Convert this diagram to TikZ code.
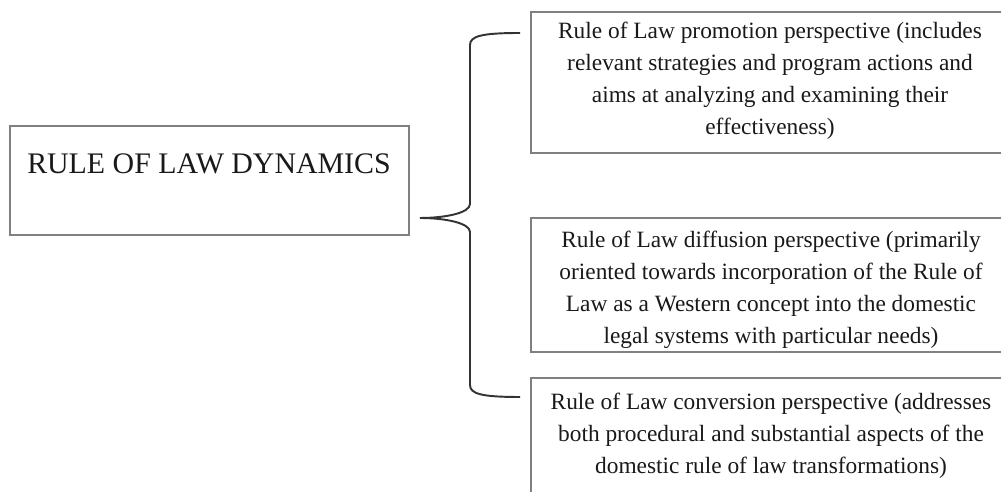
\documentclass[tikz,border=0pt]{standalone}
\usepackage{fontspec}
\setmainfont{Liberation Serif}
\usetikzlibrary{positioning}

\tikzset{
  frame/.style={draw=black!50, line width=0.85pt},
  brace/.style={draw=black!80, line width=1.1pt},
  title/.style={font=\fontsize{17}{20}\selectfont, text=black!90, inner sep=0pt},
  persp/.style={align=center, font=\fontsize{13.3}{18.2}\selectfont, text=black!90, inner sep=0pt},
}

\begin{document}
\begin{tikzpicture}[x=0.02cm,y=-0.02cm]
  \useasboundingbox (0,0) rectangle (1001,492);
  \begin{scope}
    \clip (0,0) rectangle (1001,492);
    % frames
    \draw[frame] (10,126) rectangle (409,235);
    \draw[frame] (531,12) rectangle (1009,153);
    \draw[frame] (531,218) rectangle (1009,352);
    \draw[frame] (531,378) rectangle (1009,520);
  \end{scope}

  \node[title] (dyn) at (209,164) {RULE OF LAW DYNAMICS};
  \node[persp] (promo) at (770,81) {Rule of Law promotion perspective (includes\\
    relevant strategies and program actions and\\
    aims at analyzing and examining their\\
    effectiveness)};
  \node[persp] (diff) at (771,290) {Rule of Law diffusion perspective (primarily\\
    oriented towards incorporation of the Rule of\\
    Law as a Western concept into the domestic\\
    legal systems with particular needs)};
  \node[persp] (conv) at (771,436) {Rule of Law conversion perspective (addresses\\
    both procedural and substantial aspects of the\\
    domestic rule of law transformations)};

  % brace
  \coordinate (tip) at (420,218);
  \coordinate (top) at (520,33);
  \coordinate (bot) at (520,397);
  \draw[brace] (top) .. controls +(-38,0) and +(0,-9) .. (470,45) -- (470,204)
    .. controls +(0,9) and +(25,0) .. (tip)
    .. controls +(25,0) and +(0,-9) .. (470,232) -- (470,385)
    .. controls +(0,9) and +(-38,0) .. (bot);
\end{tikzpicture}
\end{document}
